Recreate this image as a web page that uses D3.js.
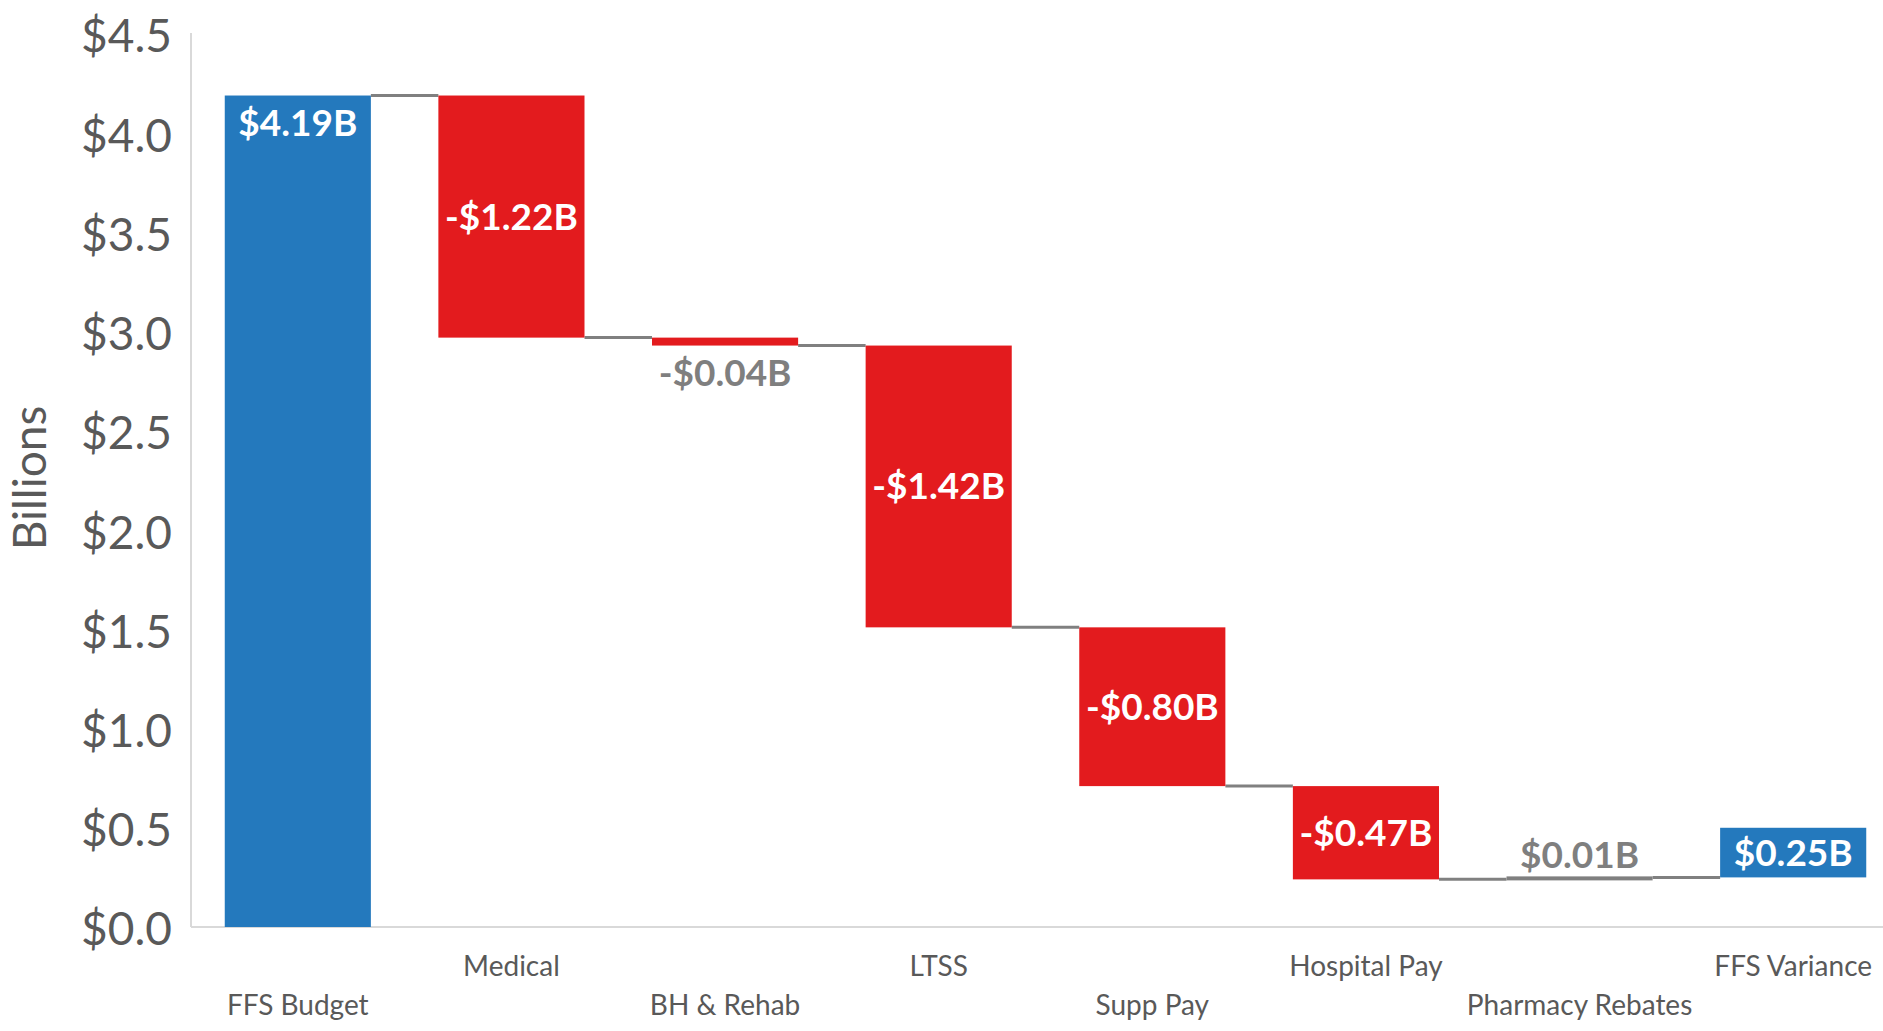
<!DOCTYPE html>
<html>
<head>
<meta charset="utf-8">
<script src="https://cdn.jsdelivr.net/npm/d3@7"></script>
<style>
  body { margin: 0; background: #fff; }
  text { font-family: Lato, "Open Sans", sans-serif; }
</style>
</head>
<body>
<div id="chart"></div>
<script>
// daten
const categories = ["FFS Budget", "Medical", "BH & Rehab", "LTSS", "Supp Pay", "Hospital Pay", "Pharmacy Rebates", "FFS Variance"];
const values = [4.19, -1.22, -0.04, -1.42, -0.80, -0.47, 0.01, 0.25];
const barKinds = ["total", "down", "down", "down", "down", "down", "up", "result"];
const labels = ["$4.19B", "-$1.22B", "-$0.04B", "-$1.42B", "-$0.80B", "-$0.47B", "$0.01B", "$0.25B"];
const yTicks = [0, 0.5, 1.0, 1.5, 2.0, 2.5, 3.0, 3.5, 4.0, 4.5];

const W = 1883, H = 1031;
const colors = { total: "#2479bd", result: "#2479bd", down: "#e31b1e", up: "#7f7f7f" };

const svg = d3.select("#chart").append("svg")
  .attr("width", W)
  .attr("height", H);

const x = d3.scaleBand()
  .domain(categories)
  .range([191, 1900])
  .paddingInner(0.316)
  .paddingOuter(0.158);

const y = d3.scaleLinear()
  .domain([0, 4.5])
  .range([927, 34]);

// laufende summe
let running = 0;
const bars = categories.map(function(c, i) {
  let start, end;
  if (barKinds[i] === "total") { start = 0; end = values[i]; }
  else { start = running; end = running + values[i]; }
  running = end;
  return { cat: c, start: start, end: end, kind: barKinds[i], label: labels[i] };
});

// achsen
svg.append("line")
  .attr("x1", 191).attr("x2", 191)
  .attr("y1", y(4.5) - 1).attr("y2", y(0))
  .attr("stroke", "#d9d9d9").attr("stroke-width", 2);

svg.append("line")
  .attr("x1", 191).attr("x2", W)
  .attr("y1", y(0)).attr("y2", y(0))
  .attr("stroke", "#d9d9d9").attr("stroke-width", 2);

svg.append("g")
  .selectAll("text")
  .data(yTicks)
  .enter().append("text")
  .attr("x", 172)
  .attr("y", d => y(d))
  .attr("dy", "0.4em")
  .attr("text-anchor", "end")
  .attr("font-size", 46)
  .attr("fill", "#595959")
  .text(d => "$" + d3.format(".1f")(d));

svg.append("text")
  .attr("transform", "translate(46,478) rotate(-90)")
  .attr("text-anchor", "middle")
  .attr("font-size", 46)
  .attr("fill", "#595959")
  .text("Billions");

// kategorien, abwechselnd zwei zeilen
svg.append("g")
  .selectAll("text")
  .data(categories)
  .enter().append("text")
  .attr("x", d => x(d) + x.bandwidth() / 2)
  .attr("y", (d, i) => i % 2 === 0 ? 1015 : 976)
  .attr("text-anchor", "middle")
  .attr("font-size", 28)
  .attr("fill", "#595959")
  .text(d => d);

// verbindungslinien
svg.append("g")
  .selectAll("line")
  .data(bars.slice(0, -1))
  .enter().append("line")
  .attr("x1", d => x(d.cat) + x.bandwidth())
  .attr("x2", (d, i) => x(categories[i + 1]))
  .attr("y1", d => y(d.end))
  .attr("y2", d => y(d.end))
  .attr("stroke", "#808080")
  .attr("stroke-width", 3);

// balken
svg.append("g")
  .selectAll("rect")
  .data(bars)
  .enter().append("rect")
  .attr("x", d => x(d.cat))
  .attr("width", x.bandwidth())
  .attr("y", d => y(Math.max(d.start, d.end)) - (d.kind === "up" ? 1 : 0))
  .attr("height", d => Math.max(4, Math.abs(y(d.start) - y(d.end))))
  .attr("fill", d => colors[d.kind]);

// beschriftungen
svg.append("g")
  .selectAll("text")
  .data(bars)
  .enter().append("text")
  .attr("x", d => x(d.cat) + x.bandwidth() / 2)
  .attr("y", function(d) {
    const top = y(Math.max(d.start, d.end));
    const bottom = y(Math.min(d.start, d.end));
    if (d.kind === "total") return top + 28;
    if (bottom - top < 40) return d.kind === "down" ? bottom + 27 : top - 22;
    return (top + bottom) / 2;
  })
  .attr("dy", "0.35em")
  .attr("text-anchor", "middle")
  .attr("font-size", 37)
  .attr("font-weight", "bold")
  .attr("fill", function(d) {
    const h = Math.abs(y(d.start) - y(d.end));
    return h < 40 ? "#7f7f7f" : "#fff";
  })
  .text(d => d.label);
</script>
</body>
</html>
